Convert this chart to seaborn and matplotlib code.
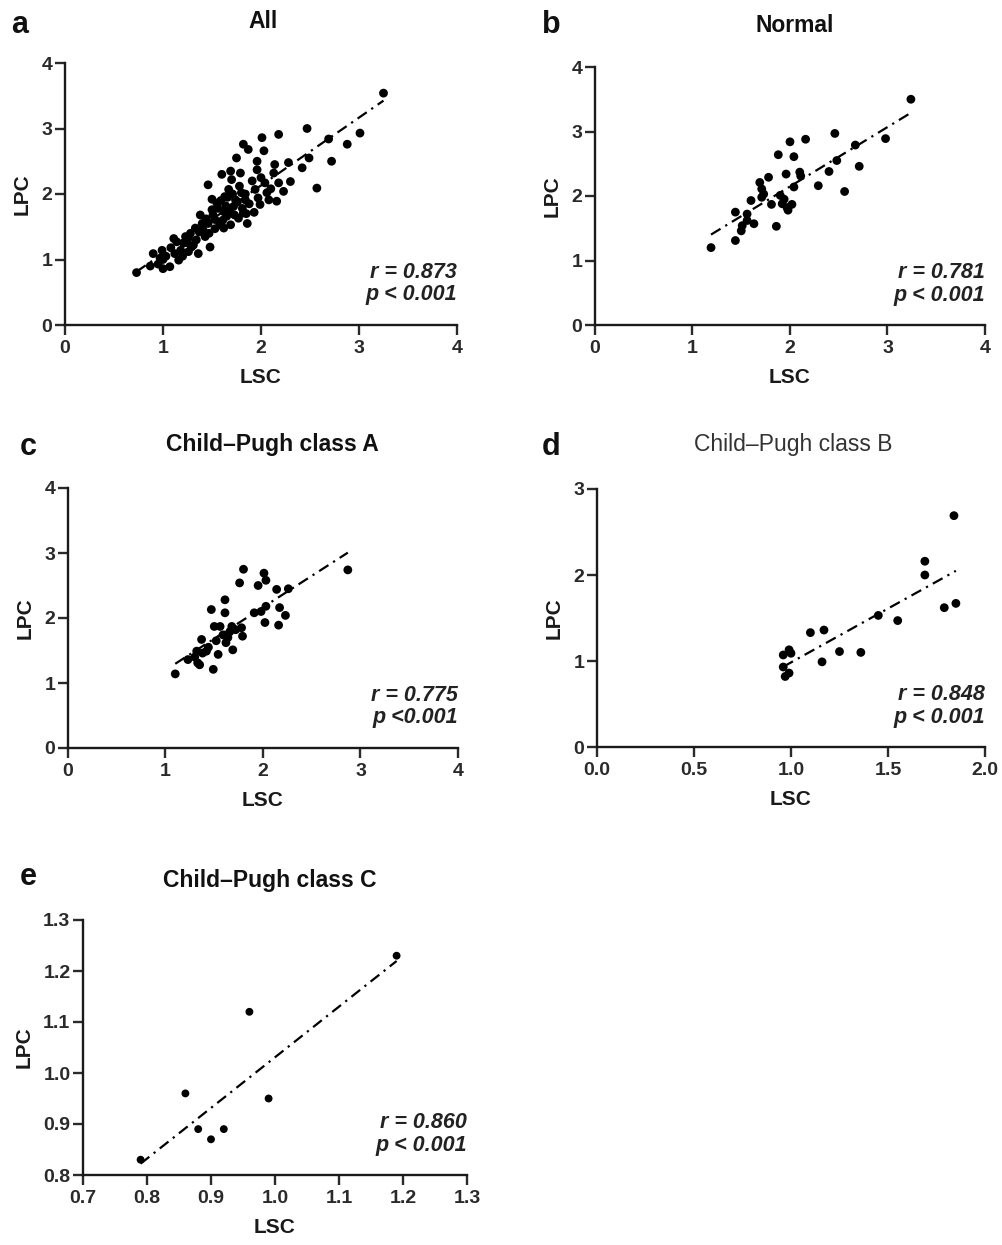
import numpy as np
import pandas as pd
import seaborn as sns
import matplotlib.pyplot as plt

# ---- data ----
all_lsc = [0.73, 0.87, 0.90, 0.97, 0.99, 1.00, 1.07, 1.11, 1.12, 1.16, 1.21, 1.23, 1.26, 1.29,
           1.34, 1.36, 1.33, 1.38, 1.41, 1.43, 1.46, 1.48, 1.46, 1.50, 1.53, 1.55, 1.58, 1.60,
           1.62, 1.63, 1.65, 1.67, 1.69, 1.70, 1.72, 1.74, 1.77, 1.79, 1.80, 1.82, 1.84, 1.86,
           1.75, 1.82, 1.87, 1.94, 1.96, 1.96, 1.97, 1.99, 2.03, 2.04, 2.06, 2.08, 2.13, 2.14,
           2.16, 2.01, 2.18, 2.18, 2.23, 2.30, 2.28, 2.42, 2.47, 2.49, 2.57, 2.69, 2.72, 2.88,
           3.01, 3.25, 0.95, 1.03, 1.08, 1.14, 1.18, 1.24, 1.28, 1.31, 1.37, 1.40, 1.44, 1.47,
           1.51, 1.53, 1.56, 1.59, 1.61, 1.64, 1.66, 1.68, 1.71, 1.73, 1.76, 1.78, 1.81, 1.84,
           1.88, 1.91, 1.93, 1.00, 1.20, 1.85, 2.00, 1.50, 1.69, 1.62, 1.26, 2.10]
all_lpc = [0.80, 0.90, 1.09, 1.02, 1.14, 0.86, 0.89, 1.32, 1.09, 0.99, 1.25, 1.35, 1.12, 1.19,
           1.30, 1.09, 1.48, 1.68, 1.45, 1.35, 1.55, 1.19, 2.14, 1.76, 1.61, 1.86, 1.53, 2.30,
           1.73, 1.96, 1.66, 2.07, 1.53, 2.22, 1.81, 1.91, 1.63, 2.32, 2.02, 1.71, 1.91, 1.55,
           2.55, 2.76, 2.68, 2.07, 2.50, 2.37, 1.94, 1.84, 2.66, 2.17, 2.02, 1.91, 2.32, 2.45,
           1.89, 2.86, 2.91, 2.17, 2.04, 2.19, 2.48, 2.40, 3.00, 2.55, 2.09, 2.84, 2.50, 2.76,
           2.93, 3.54, 0.93, 1.05, 1.18, 1.27, 1.14, 1.26, 1.40, 1.22, 1.42, 1.55, 1.62, 1.40,
           1.68, 1.47, 1.78, 1.90, 1.60, 1.82, 1.95, 1.74, 2.00, 1.68, 1.88, 2.12, 1.78, 2.00,
           1.85, 2.20, 1.72, 1.00, 1.05, 1.70, 2.25, 1.92, 2.35, 1.48, 1.33, 2.08]

normal_lsc = [1.19, 1.44, 1.44, 1.50, 1.51, 1.56, 1.60, 1.63, 1.69, 1.71, 1.71, 1.78, 1.81, 1.86,
              1.88, 1.90, 1.92, 1.96, 1.98, 2.00, 2.02, 2.04, 2.04, 2.10, 2.11, 2.16, 2.29, 2.40,
              2.46, 2.48, 2.56, 2.67, 2.71, 2.98, 3.24, 1.73, 1.94, 1.97, 1.56]
normal_lpc = [1.20, 1.31, 1.75, 1.46, 1.54, 1.72, 1.93, 1.57, 2.21, 2.11, 1.98, 2.29, 1.87, 1.53,
              2.64, 2.01, 1.88, 2.34, 1.78, 2.84, 1.87, 2.61, 2.14, 2.37, 2.31, 2.88, 2.16, 2.38,
              2.97, 2.55, 2.07, 2.79, 2.46, 2.89, 3.50, 2.03, 1.95, 1.82, 1.62]

a_lsc = [1.10, 1.23, 1.32, 1.33, 1.37, 1.38, 1.42, 1.47, 1.49, 1.50, 1.54, 1.56, 1.59, 1.61,
         1.61, 1.62, 1.66, 1.68, 1.69, 1.76, 1.78, 1.79, 1.80, 1.91, 1.95, 1.98, 2.01, 2.02,
         2.03, 2.03, 2.14, 2.17, 2.16, 2.23, 2.26, 2.87, 1.30, 1.44, 1.52, 1.64, 1.72, 1.35]
a_lpc = [1.14, 1.36, 1.49, 1.31, 1.67, 1.46, 1.49, 2.13, 1.21, 1.87, 1.44, 1.87, 1.74, 2.28,
         2.08, 1.62, 1.79, 1.87, 1.51, 2.54, 1.85, 1.72, 2.75, 2.08, 2.50, 2.10, 2.69, 1.93,
         2.58, 2.18, 2.44, 2.16, 1.89, 2.04, 2.45, 2.74, 1.40, 1.55, 1.65, 1.70, 1.82, 1.28]

b_lsc = [0.96, 0.96, 0.97, 0.99, 0.99, 1.00, 1.10, 1.16, 1.17, 1.25, 1.36, 1.45, 1.55, 1.69,
         1.69, 1.79, 1.85, 1.84]
b_lpc = [1.07, 0.93, 0.82, 0.86, 1.13, 1.09, 1.33, 0.99, 1.36, 1.11, 1.10, 1.53, 1.47, 2.16,
         2.00, 1.62, 1.67, 2.69]

c_lsc = [0.79, 0.86, 0.88, 0.90, 0.92, 0.96, 0.99, 1.19]
c_lpc = [0.83, 0.96, 0.89, 0.87, 0.89, 1.12, 0.95, 1.23]

panels = [
    # letter, title, x, y, stats, rect (px: left, top, right, bottom), xlim, ylim, xticks, yticks
    ("a", "All", all_lsc, all_lpc, "r = 0.873\np < 0.001",
     (65, 63, 457, 325), (0, 4), (0, 4), [0, 1, 2, 3, 4], [0, 1, 2, 3, 4]),
    ("b", "Normal", normal_lsc, normal_lpc, "r = 0.781\np < 0.001",
     (595, 67, 985, 325), (0, 4), (0, 4), [0, 1, 2, 3, 4], [0, 1, 2, 3, 4]),
    ("c", "Child\u2013Pugh class A", a_lsc, a_lpc, "r = 0.775\np <0.001",
     (68, 488, 458, 748), (0, 4), (0, 4), [0, 1, 2, 3, 4], [0, 1, 2, 3, 4]),
    ("d", "Child\u2013Pugh class B", b_lsc, b_lpc, "r = 0.848\np < 0.001",
     (597, 489, 985, 747), (0, 2), (0, 3), [0.0, 0.5, 1.0, 1.5, 2.0], [0, 1, 2, 3]),
    ("e", "Child\u2013Pugh class C", c_lsc, c_lpc, "r = 0.860\np < 0.001",
     (83, 920, 467, 1175), (0.7, 1.3), (0.8, 1.3),
     [0.7, 0.8, 0.9, 1.0, 1.1, 1.2, 1.3], [0.8, 0.9, 1.0, 1.1, 1.2, 1.3]),
]

W, H = 1003, 1245

sns.set_style("ticks")
plt.rcParams['font.family'] = ['Liberation Sans', 'DejaVu Sans']
plt.rcParams['axes.linewidth'] = 1.7

fig = plt.figure(figsize=(W / 100, H / 100), dpi=100)

title_pos = {"a": (263, 22), "b": (795, 25), "c": (272, 445), "d": (793, 445), "e": (270, 880)}
letter_pos = {"a": (11, 25), "b": (542, 25), "c": (20, 447), "d": (542, 447), "e": (20, 877)}

for letter, title, xs, ys, stats, rect, xlim, ylim, xt, yt in panels:
    l, t, r, b = rect
    ax = fig.add_axes([l / W, 1 - b / H, (r - l) / W, (b - t) / H])
    df = pd.DataFrame({"LSC": xs, "LPC": ys})
    ms = 32 if letter == "e" else 40
    sns.regplot(data=df, x="LSC", y="LPC", ax=ax, ci=None, color="black",
                scatter_kws={"s": ms, "edgecolor": "none", "alpha": 1},
                line_kws={"lw": 1.6, "ls": (0, (5, 2.5, 1, 2.5))})
    ax.set_xlim(xlim)
    ax.set_ylim(ylim)
    ax.set_xticks(xt)
    ax.set_yticks(yt)
    if letter == "d":
        ax.set_xticklabels([f"{v:.1f}" for v in xt])
        ax.set_yticklabels([f"{v:d}" for v in yt])
    elif letter == "e":
        ax.set_xticklabels([f"{v:.1f}" for v in xt])
        ax.set_yticklabels([f"{v:.1f}" for v in yt])
    sns.despine(ax=ax)
    for s in ["left", "bottom"]:
        ax.spines[s].set_color("#1a1a1a")
    ax.tick_params(length=7, width=1.7, labelsize=14, colors="#2a2a2a")
    ax.tick_params(axis="x", pad=4)
    ax.tick_params(axis="y", pad=2)
    for lab in ax.get_xticklabels() + ax.get_yticklabels():
        lab.set_fontweight("bold")
    ax.set_xlabel("LSC", fontsize=15, fontweight="bold", labelpad=8, color="#1a1a1a")
    ax.set_ylabel("LPC", fontsize=15, fontweight="bold", labelpad=7, color="#1a1a1a")
    ax.text(1.0, 0.075, stats, transform=ax.transAxes, ha="right", va="bottom",
            fontsize=15.5, fontweight="bold", style="italic", color="#222222",
            linespacing=1.1)

    tx, ty = title_pos[letter]
    fig.text(tx / W, 1 - ty / H, title, ha="center", va="center", fontsize=16.5,
             fontweight="normal" if letter == "d" else "bold",
             color="#333333" if letter == "d" else "#111111")
    lx, ly = letter_pos[letter]
    fig.text(lx / W, 1 - ly / H, letter, ha="left", va="center", fontsize=22,
             fontweight="bold", color="#111111")

fig.savefig("out.png", dpi=100)
